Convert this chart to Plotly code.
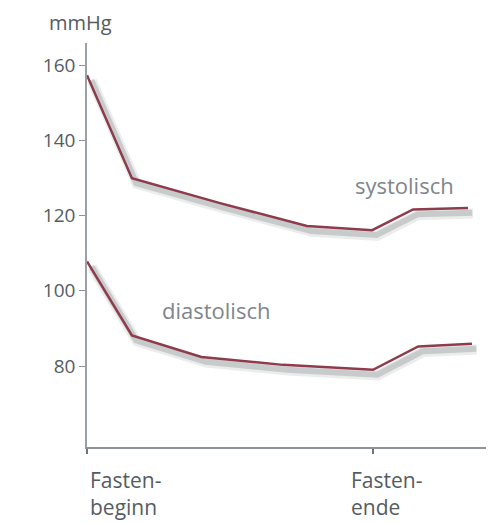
import plotly.graph_objects as go

# Data (x in relative time units; Fastenbeginn = 0, Fastenende = 10)
sys_x = [0, 1.57, 4.65, 7.69, 9.97, 11.40, 13.32]
sys_y = [157.3, 129.9, 123.3, 117.2, 116.1, 121.6, 122.0]
dia_x = [0, 1.57, 4.0, 6.85, 10.0, 11.58, 13.46]
dia_y = [107.8, 88.1, 82.4, 80.3, 79.0, 85.2, 85.9]
y_ticks = [80, 100, 120, 140, 160]
x_ticks = [0, 10]
x_labels = ["Fasten-<br>beginn", "Fasten-<br>ende"]

LINE = "#8e3b4c"
TXT = "#555c61"
FONT = "Open Sans"

fig = go.Figure()

# soft shadows
for dx, dy, w, op in [(0.17, -1.5, 10, 0.15), (0.15, -1.3, 6, 0.3)]:
    for xs, ys in [(sys_x, sys_y), (dia_x, dia_y)]:
        fig.add_trace(go.Scatter(
            x=[v + dx for v in xs], y=[v + dy for v in ys], mode="lines",
            line=dict(color=f"rgba(120,125,130,{op})", width=w),
            hoverinfo="skip", showlegend=False))

for xs, ys, name in [(sys_x, sys_y, "systolisch"), (dia_x, dia_y, "diastolisch")]:
    fig.add_trace(go.Scatter(x=xs, y=ys, mode="lines", name=name,
                             line=dict(color=LINE, width=2.5), showlegend=False))

fig.update_layout(
    width=494, height=523,
    margin=dict(l=79, r=14, t=35, b=84),
    paper_bgcolor="white", plot_bgcolor="white",
    font=dict(family=FONT, color=TXT, size=19),
    xaxis=dict(range=[0, 14.02], showgrid=False, zeroline=False,
               showline=True, linecolor="#8d9397", linewidth=2,
               tickvals=x_ticks, ticktext=["", ""], ticks="outside",
               ticklen=5, tickcolor="#6d7377", tickwidth=1.5),
    yaxis=dict(range=[58.47, 165.85], showgrid=False, zeroline=False,
               showline=True, linecolor="#9aa0a4", linewidth=1.5,
               tickvals=y_ticks, ticks="outside", ticklen=6,
               tickcolor="#8d9397", tickwidth=1.2,
               tickfont=dict(size=19, color=TXT, family=FONT)),
)

# bottom axis shadow
fig.add_shape(type="line", xref="paper", yref="y", x0=0.02, x1=1.0,
              y0=57.6, y1=57.6, line=dict(color="rgba(120,125,130,0.45)", width=4),
              layer="below")

fig.add_annotation(text="mmHg", xref="paper", yref="paper", x=0, y=1.0,
                   xshift=-7, yshift=21, showarrow=False,
                   xanchor="center", yanchor="middle",
                   font=dict(size=20, color=TXT, family=FONT))
fig.add_annotation(text="systolisch", x=11.1, y=128.2, showarrow=False,
                   xanchor="center", yanchor="middle",
                   font=dict(size=22, color="#7f868b", family=FONT))
fig.add_annotation(text="diastolisch", x=4.5, y=94.8, showarrow=False,
                   xanchor="center", yanchor="middle",
                   font=dict(size=22, color="#7f868b", family=FONT))
for xv, lab in zip(x_ticks, x_labels):
    fig.add_annotation(text=lab, x=xv, xref="x", yref="paper", y=0,
                       yshift=-17, xshift=1 if xv == 0 else -24,
                       showarrow=False, xanchor="left", yanchor="top", align="left",
                       font=dict(size=21, color=TXT, family=FONT))

fig.write_html("out.html")
